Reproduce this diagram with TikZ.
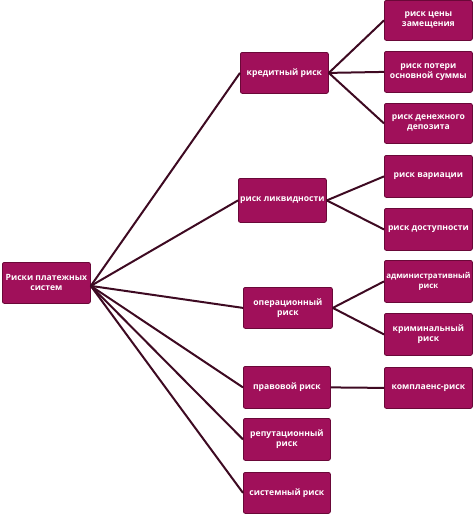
\documentclass[tikz,border=0pt]{standalone}
\usepackage{fontspec}
\setmainfont{Open Sans}
\definecolor{boxfill}{HTML}{A0105A}
\definecolor{boxedge}{HTML}{6A0838}
\definecolor{linecol}{HTML}{3E0A22}
\begin{document}
\begin{tikzpicture}[x=1pt,y=-1pt,
  rbox/.style={draw=boxedge,line width=0.8pt,fill=boxfill,rounded corners=2pt,
    text=white,font=\fontsize{8.6}{10}\selectfont\bfseries,align=center,
    inner sep=0pt,anchor=north west},
  conn/.style={draw=linecol,line width=2pt}]
\useasboundingbox (0,0) rectangle (474,515);
% root
\node[rbox,minimum width=88pt,minimum height=41pt] (root) at (2,262) {Риски платежных\\систем};
% middle column
\node[rbox,minimum width=88pt,minimum height=41pt] (m1) at (240,52) {кредитный риск};
\node[rbox,minimum width=88pt,minimum height=44pt] (m2) at (238,178) {риск ликвидности};
\node[rbox,minimum width=89pt,minimum height=41pt] (m3) at (243,287) {операционный\\риск};
\node[rbox,minimum width=87pt,minimum height=42pt] (m4) at (243,366) {правовой риск};
\node[rbox,minimum width=87pt,minimum height=42pt] (m5) at (243,418) {репутационный\\риск};
\node[rbox,minimum width=87pt,minimum height=41pt] (m6) at (243,472) {системный риск};
% right column
\node[rbox,minimum width=88pt,minimum height=40pt] (r1) at (384,0) {риск цены\\замещения};
\node[rbox,minimum width=88pt,minimum height=41pt] (r2) at (384,51) {риск потери\\основной суммы};
\node[rbox,minimum width=88pt,minimum height=40pt] (r3) at (384,103) {риск денежного\\депозита};
\node[rbox,minimum width=88pt,minimum height=42pt] (r4) at (384,155) {риск вариации};
\node[rbox,minimum width=88pt,minimum height=42pt] (r5) at (384,208) {риск доступности};
\node[rbox,minimum width=88pt,minimum height=42pt,font=\fontsize{7.9}{10}\selectfont\bfseries] (r6) at (384,260) {административный\\риск};
\node[rbox,minimum width=88pt,minimum height=42pt] (r7) at (384,313) {криминальный\\риск};
\node[rbox,minimum width=88pt,minimum height=41pt] (r8) at (384,367) {комплаенс-риск};
% connectors from root
\coordinate (ro) at ([yshift=-3pt]root.east);
\foreach \m in {m1,m2,m3,m4,m5,m6}
  \draw[conn] (ro) -- (\m.west);
% connectors from middle
\draw[conn] (m1.east) -- (r1.west);
\draw[conn] (m1.east) -- (r2.west);
\draw[conn] (m1.east) -- (r3.west);
\draw[conn] (m2.east) -- (r4.west);
\draw[conn] (m2.east) -- (r5.west);
\draw[conn] (m3.east) -- (r6.west);
\draw[conn] (m3.east) -- (r7.west);
\draw[conn] (m4.east) -- (r8.west);
\end{tikzpicture}
\end{document}
